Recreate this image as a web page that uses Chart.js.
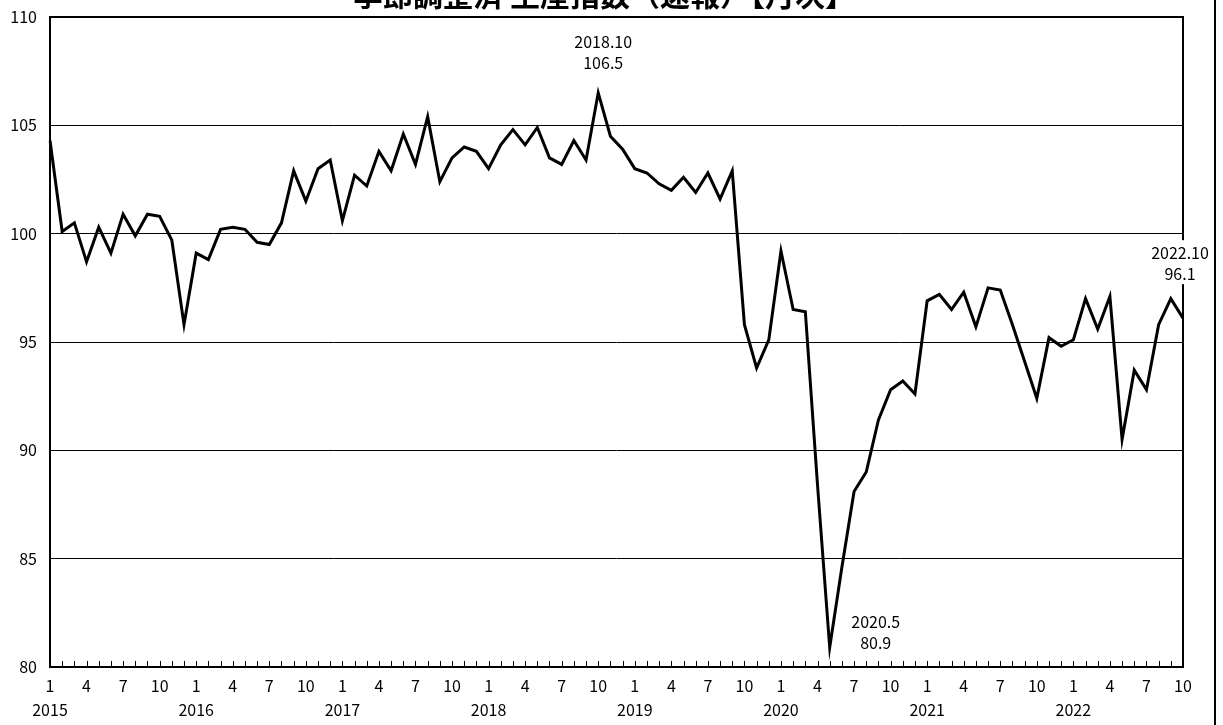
<!DOCTYPE html>
<html>
<head>
<meta charset="utf-8">
<script src="https://cdn.jsdelivr.net/npm/chart.js@4/dist/chart.umd.min.js"></script>
<style>
  html, body { margin: 0; padding: 0; background: #fff; }
  #wrap { width: 1223px; height: 725px; }
</style>
</head>
<body>
<div id="wrap"><canvas id="chart" width="1223" height="725"></canvas></div>
<script>
// 月次データ 2015.1 - 2022.10
const years = ['2015', '2016', '2017', '2018', '2019', '2020', '2021', '2022'];
const months = [1, 2, 3, 4, 5, 6, 7, 8, 9, 10, 11, 12];
const shownMonths = [1, 4, 7, 10];
const values2015 = [104.3, 100.1, 100.5, 98.7, 100.3, 99.1, 100.9, 99.9, 100.9, 100.8, 99.7, 95.8];
const values2016 = [99.1, 98.8, 100.2, 100.3, 100.2, 99.6, 99.5, 100.5, 102.9, 101.5, 103.0, 103.4];
const values2017 = [100.6, 102.7, 102.2, 103.8, 102.9, 104.6, 103.2, 105.4, 102.4, 103.5, 104.0, 103.8];
const values2018 = [103.0, 104.1, 104.8, 104.1, 104.9, 103.5, 103.2, 104.3, 103.4, 106.5, 104.5, 103.9];
const values2019 = [103.0, 102.8, 102.3, 102.0, 102.6, 101.9, 102.8, 101.6, 102.9, 95.8, 93.8, 95.1];
const values2020 = [99.2, 96.5, 96.4, 88.4, 80.9, 84.6, 88.1, 89.0, 91.4, 92.8, 93.2, 92.6];
const values2021 = [96.9, 97.2, 96.5, 97.3, 95.7, 97.5, 97.4, 95.8, 94.1, 92.4, 95.2, 94.8];
const values2022 = [95.1, 97.0, 95.6, 97.1, 90.5, 93.7, 92.8, 95.8, 97.0, 96.1];
const yTicks = [80, 85, 90, 95, 100, 105, 110];
const titleText = '季節調整済 生産指数（速報）【月次】';
const markedPoints = [45, 64, 93]; // 2018.10 / 2020.5 / 2022.10

const values = [].concat(values2015, values2016, values2017, values2018,
                         values2019, values2020, values2021, values2022);
const labelYear = [];
const labelMonth = [];
years.forEach(y => months.forEach(m => {
    if (labelYear.length < values.length) {
        labelYear.push(y);
        labelMonth.push(m);
    }
}));

const FONT = '"Noto Sans CJK JP", "Noto Sans", sans-serif';

// 枠線・内向き目盛・外枠
const framePlugin = {
    id: 'frame',
    afterDraw(chart) {
        const ctx = chart.ctx;
        const a = chart.chartArea;
        const x = chart.scales.x;
        ctx.save();
        ctx.strokeStyle = '#000';
        ctx.lineWidth = 1;
        for (let i = 0; i < x.ticks.length; i++) {
            const px = Math.round(x.getPixelForTick(i)) + 0.5;
            ctx.beginPath();
            ctx.moveTo(px, a.bottom);
            ctx.lineTo(px, a.bottom - 6);
            ctx.stroke();
        }
        ctx.lineWidth = 2;
        ctx.strokeRect(a.left, a.top, a.right - a.left, a.bottom - a.top);
        ctx.beginPath();
        ctx.moveTo(chart.width - 8, 0);
        ctx.lineTo(chart.width - 8, chart.height);
        ctx.stroke();
        ctx.restore();
    }
};

// タイトル（上端で切れている）
const titlePlugin = {
    id: 'cutTitle',
    afterDraw(chart) {
        const ctx = chart.ctx;
        ctx.save();
        ctx.fillStyle = '#000';
        ctx.font = 'bold 30px ' + FONT;
        ctx.textAlign = 'center';
        ctx.textBaseline = 'ideographic';
        ctx.fillText(titleText, 604, 10);
        ctx.restore();
    }
};

// データラベル
const labelOffsets = {
    45: { dx: 5, dy: -51, bg: false },
    64: { dx: 46, dy: -26, bg: false },
    93: { dx: -3, dy: -65, bg: true }
};
const pointLabelPlugin = {
    id: 'pointLabels',
    afterDraw(chart) {
        const ctx = chart.ctx;
        const meta = chart.getDatasetMeta(0);
        ctx.save();
        ctx.font = '16px ' + FONT;
        ctx.textAlign = 'center';
        ctx.textBaseline = 'middle';
        markedPoints.forEach(i => {
            const p = meta.data[i];
            const o = labelOffsets[i];
            const lines = [labelYear[i] + '.' + labelMonth[i], values[i].toFixed(1)];
            const cx = p.x + o.dx;
            const cy = p.y + o.dy;
            if (o.bg) {
                ctx.fillStyle = '#fff';
                ctx.fillRect(cx - 33, cy - 13, 66, 44);
            }
            ctx.fillStyle = '#000';
            lines.forEach((t, k) => ctx.fillText(t, cx, cy + k * 21));
        });
        ctx.restore();
    }
};

new Chart(document.getElementById('chart').getContext('2d'), {
    type: 'line',
    data: {
        labels: labelMonth.map((m, i) => labelYear[i] + '.' + m),
        datasets: [{
            data: values,
            borderColor: '#000',
            borderWidth: 3,
            pointRadius: 0,
            tension: 0,
            fill: false
        }]
    },
    options: {
        responsive: false,
        animation: false,
        devicePixelRatio: 1,
        layout: { padding: { top: 17, right: 40, left: 0, bottom: 0 } },
        plugins: {
            legend: { display: false },
            title: { display: false },
            tooltip: { enabled: false }
        },
        scales: {
            x: {
                type: 'category',
                offset: false,
                grid: { display: false, drawTicks: false },
                border: { display: false },
                afterFit(s) { s.height = 58; },
                ticks: {
                    autoSkip: false,
                    maxRotation: 0,
                    minRotation: 0,
                    padding: 7,
                    color: '#000',
                    font: { family: FONT, size: 16, lineHeight: 1.5 },
                    callback(v, i) {
                        const m = labelMonth[i];
                        if (!shownMonths.includes(m)) return '';
                        return m === 1 ? [String(m), labelYear[i]] : String(m);
                    }
                }
            },
            y: {
                min: 80,
                max: 110,
                afterFit(s) {
                    s.width = 50;
                    s.paddingTop = 0;
                    s.paddingBottom = 0;
                },
                afterBuildTicks(s) { s.ticks = yTicks.map(v => ({ value: v })); },
                grid: { color: '#000', lineWidth: 1, drawTicks: false },
                border: { display: false },
                ticks: {
                    padding: 13,
                    color: '#000',
                    font: { family: FONT, size: 16 }
                }
            }
        }
    },
    plugins: [framePlugin, titlePlugin, pointLabelPlugin]
});
</script>
</body>
</html>
